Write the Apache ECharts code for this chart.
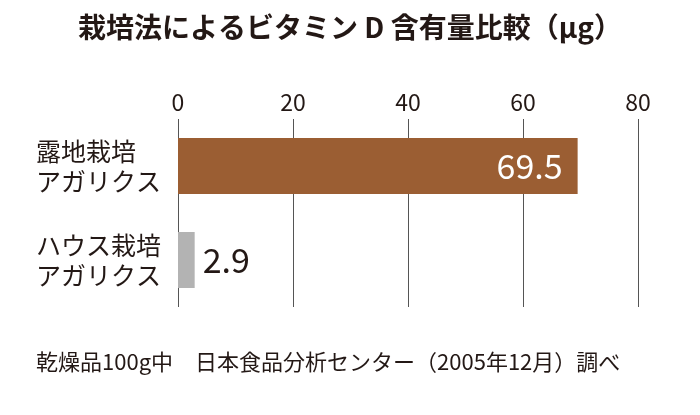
<!DOCTYPE html>
<html>
<head>
<meta charset="utf-8">
<script src="https://cdn.jsdelivr.net/npm/echarts@6/dist/echarts.min.js"></script>
<style>
  html, body { margin: 0; padding: 0; background: #fff; }
  #chart { width: 700px; height: 415px; }
</style>
</head>
<body>
<div id="chart"></div>
<script>
const categories = ['露地栽培\nアガリクス', 'ハウス栽培\nアガリクス'];
const values = [69.5, 2.9];
const barColors = ['#9b5e33', '#b3b3b3'];
const axisTicks = [0, 20, 40, 60, 80];

const FONT = '"Noto Sans CJK JP", "Noto Sans", sans-serif';
const TEXT = '#231815';

document.addEventListener('DOMContentLoaded', () => {
    const chart = echarts.init(document.getElementById('chart'));
    const option = {
        backgroundColor: '#fff',
        animation: false,
        title: {
            text: '栽培法によるビタミン D 含有量比較（μg）',
            left: 'center',
            top: 8,
            textStyle: { fontFamily: FONT, fontSize: 28, fontWeight: 'bold', color: TEXT }
        },
        grid: { left: 178, right: 62, top: 119, bottom: 108 },
        xAxis: {
            type: 'value',
            position: 'top',
            min: axisTicks[0],
            max: axisTicks[axisTicks.length - 1],
            interval: axisTicks[1] - axisTicks[0],
            axisLine: { show: false },
            axisTick: { show: false },
            axisLabel: { fontFamily: FONT, fontSize: 23, color: TEXT, margin: 5 },
            splitLine: { show: true, lineStyle: { color: '#555', width: 1 } }
        },
        yAxis: {
            type: 'category',
            inverse: true,
            data: categories,
            axisLine: { show: false },
            axisTick: { show: false },
            axisLabel: {
                fontFamily: FONT, fontSize: 25, color: TEXT,
                align: 'left', lineHeight: 30, margin: 142
            }
        },
        series: [{
            type: 'bar',
            barWidth: 56,
            data: values.map((v, i) => ({
                value: v,
                itemStyle: { color: barColors[i] },
                label: i === 0
                    ? { position: 'insideRight', distance: 15, color: '#fff' }
                    : { position: 'right', distance: 8, color: TEXT }
            })),
            label: {
                show: true,
                fontFamily: FONT,
                fontSize: 34,
                formatter: p => p.value.toFixed(1)
            }
        }],
        graphic: [{
            type: 'text',
            left: 36,
            top: 351,
            style: {
                text: '乾燥品100g中　日本食品分析センター（2005年12月）調べ',
                fontFamily: FONT, fontSize: 22, fill: TEXT
            }
        }]
    };
    chart.setOption(option);
    window.addEventListener('resize', () => chart.resize());
});
</script>
</body>
</html>
